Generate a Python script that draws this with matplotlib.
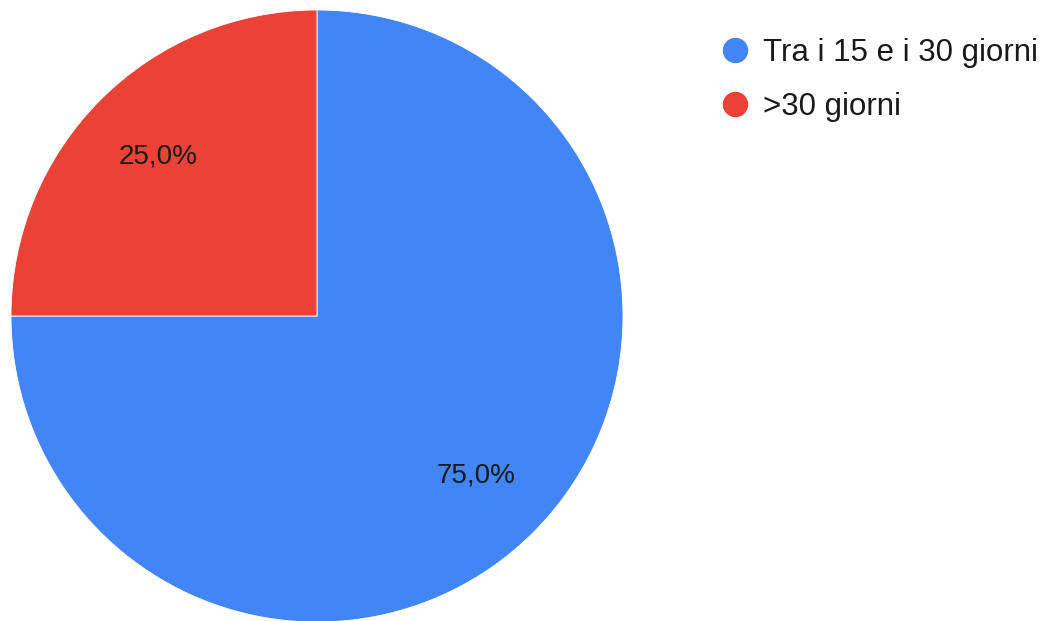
import matplotlib
matplotlib.use("Agg")
import matplotlib.pyplot as plt

plt.rcParams['font.family'] = ['Liberation Sans', 'DejaVu Sans']

categories = ["Tra i 15 e i 30 giorni", ">30 giorni"]
values = [75.0, 25.0]
colors = ["#4285F4", "#EA4335"]

fig = plt.figure(figsize=(10.55, 6.21), dpi=100)
W, H = 1055, 621
cx, cy, r = 317, 316, 306
ax = fig.add_axes([(cx - r) / W, (H - cy - r) / H, 2 * r / W, 2 * r / H])

wedges, texts, autotexts = ax.pie(
    values, colors=colors, startangle=90, counterclock=False,
    autopct=lambda p: f"{p:.1f}".replace(".", ",") + "%",
    pctdistance=0.735, radius=1.0,
    wedgeprops=dict(linewidth=0.6, edgecolor="white"),
    textprops=dict(fontsize=20, color="#1a1a1a"))
ax.set_xlim(-1, 1)
ax.set_ylim(-1, 1)
ax.set_aspect('auto')
ax.axis('off')

# legend overlay in pixel coordinates
lax = fig.add_axes([0, 0, 1, 1])
lax.set_xlim(0, W)
lax.set_ylim(H, 0)
lax.axis('off')
lax.patch.set_alpha(0)
for i, (lab, c) in enumerate(zip(categories, colors)):
    y = 50 + i * 54
    lax.plot([735], [y], marker='o', markersize=17.3, color=c, linestyle='')
    lax.text(763, y + 11, lab, fontsize=22.5, color="#1a1a1a",
             va='baseline', ha='left')

fig.savefig("out.png", dpi=100, facecolor="white")
